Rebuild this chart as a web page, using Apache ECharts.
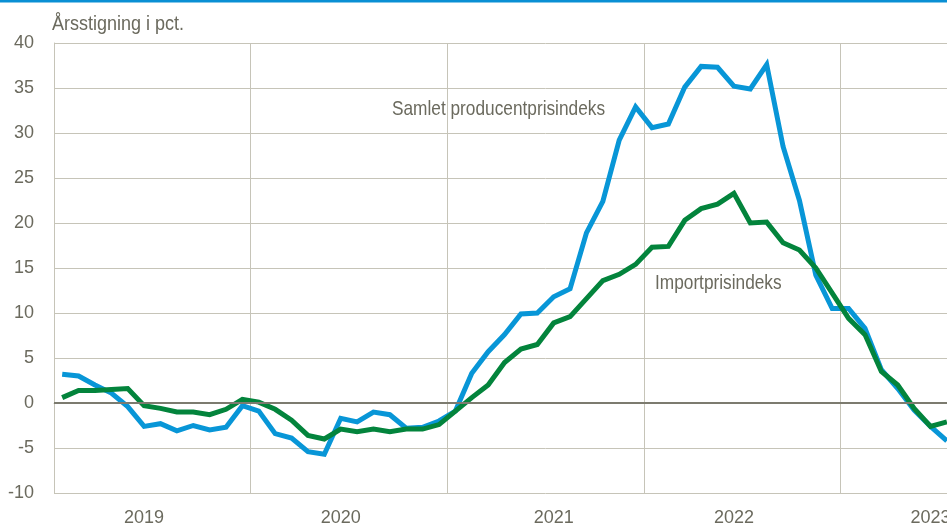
<!DOCTYPE html>
<html lang="da">
<head>
    <meta charset="UTF-8">
    <title>Årsstigning i priser</title>
    <style>
        html, body { margin: 0; padding: 0; background: #fff; overflow: hidden; }
        /* plottet fortsætter til højre ud over vinduet, som i originalen */
        #chart { width: 1037px; height: 527px; }
    </style>
    <script src="https://cdn.jsdelivr.net/npm/echarts@6/dist/echarts.min.js"></script>
</head>
<body>
<div id="chart"></div>
<script>
// Måneder jan 2019 - dec 2023
const years = ['2019', '2020', '2021', '2022', '2023'];
const monthNames = ['01', '02', '03', '04', '05', '06', '07', '08', '09', '10', '11', '12'];
const months = years.flatMap(y => monthNames.map(m => y + '-' + m));

// måned hvor årstallet står under aksen
const yearLabelAt = ['2019-06', '2020-06', '2021-07', '2022-06', '2023-06'];

// Samlet producentprisindeks, jan 2019 - jul 2023
const samlet = [
    3.2, 3.0, 2.0, 1.1, -0.4, -2.6, -2.3, -3.1, -2.5, -3.0, -2.7, -0.3,
    -0.9, -3.4, -3.9, -5.4, -5.7, -1.7, -2.1, -1.0, -1.3, -2.8, -2.7, -2.0,
    -0.9, 3.3, 5.7, 7.6, 9.9, 10.0, 11.8, 12.7, 18.9, 22.4, 29.2, 32.9,
    30.6, 31.0, 35.1, 37.4, 37.3, 35.2, 34.9, 37.6, 28.5, 22.5, 14.2, 10.5,
    10.5, 8.3, 3.7, 1.6, -0.8, -2.6, -4.2
];

// Importprisindeks, jan 2019 - jul 2023
const importpris = [
    0.6, 1.4, 1.4, 1.5, 1.6, -0.3, -0.6, -1.0, -1.0, -1.3, -0.7, 0.4,
    0.1, -0.7, -1.9, -3.6, -4.0, -2.9, -3.2, -2.9, -3.2, -2.9, -2.9, -2.4,
    -0.9, 0.6, 2.0, 4.5, 6.0, 6.5, 8.9, 9.6, 11.6, 13.6, 14.3, 15.4,
    17.3, 17.4, 20.3, 21.6, 22.1, 23.3, 20.0, 20.1, 17.8, 17.0, 15.0, 12.2,
    9.4, 7.6, 3.5, 2.0, -0.6, -2.6, -2.1
];

const FONT = '"Liberation Sans", Arial, sans-serif';
const TEXT = '#6b6a5e';
const GRID = '#c6c4b8';

const chart = echarts.init(document.getElementById('chart'), null, { renderer: 'canvas' });

chart.setOption({
    animation: false,
    backgroundColor: '#fff',
    grid: { left: 54, top: 43, height: 450, width: 983 },
    xAxis: {
        type: 'category',
        data: months,
        boundaryGap: true,
        axisLine: { show: true, lineStyle: { color: GRID, width: 1 } },
        axisTick: { show: false },
        axisLabel: {
            interval: (i, v) => yearLabelAt.includes(v),
            formatter: v => v.slice(0, 4),
            color: TEXT,
            fontFamily: FONT,
            fontSize: 18,
            margin: 16
        },
        splitLine: {
            show: true,
            interval: i => i % 12 === 0 && i > 0,
            lineStyle: { color: GRID, width: 1 }
        }
    },
    yAxis: {
        type: 'value',
        min: -10,
        max: 40,
        interval: 5,
        axisLine: { show: true, lineStyle: { color: GRID, width: 1 } },
        axisTick: { show: false },
        axisLabel: {
            color: TEXT,
            fontFamily: FONT,
            fontSize: 18,
            margin: 20
        },
        splitLine: { show: true, lineStyle: { color: GRID, width: 1 } }
    },
    series: [
        {
            name: 'Samlet producentprisindeks',
            type: 'line',
            data: samlet,
            symbol: 'none',
            lineStyle: { color: '#0896d7', width: 5, join: 'miter' },
            markLine: {
                silent: true,
                symbol: 'none',
                label: { show: false },
                lineStyle: { color: '#7c7b6f', width: 2, type: 'solid' },
                data: [{ yAxis: 0 }]
            },
            z: 2
        },
        {
            name: 'Importprisindeks',
            type: 'line',
            data: importpris,
            symbol: 'none',
            lineStyle: { color: '#03843c', width: 5, join: 'miter' },
            z: 3
        }
    ],
    graphic: [
        { type: 'rect', left: 0, top: 0, shape: { width: 1037, height: 2.5 }, style: { fill: '#0a8fd4' } },
        { type: 'text', x: 52, y: 14, scaleX: 0.9,
          style: { text: 'Årsstigning i pct.', fill: TEXT, font: '20px ' + FONT, verticalAlign: 'top' } },
        { type: 'text', x: 392, y: 99, scaleX: 0.822,
          style: { text: 'Samlet producentprisindeks', fill: TEXT, font: '21px ' + FONT, verticalAlign: 'top' } },
        { type: 'text', x: 655, y: 273, scaleX: 0.822,
          style: { text: 'Importprisindeks', fill: TEXT, font: '21px ' + FONT, verticalAlign: 'top' } }
    ]
});
</script>
</body>
</html>
